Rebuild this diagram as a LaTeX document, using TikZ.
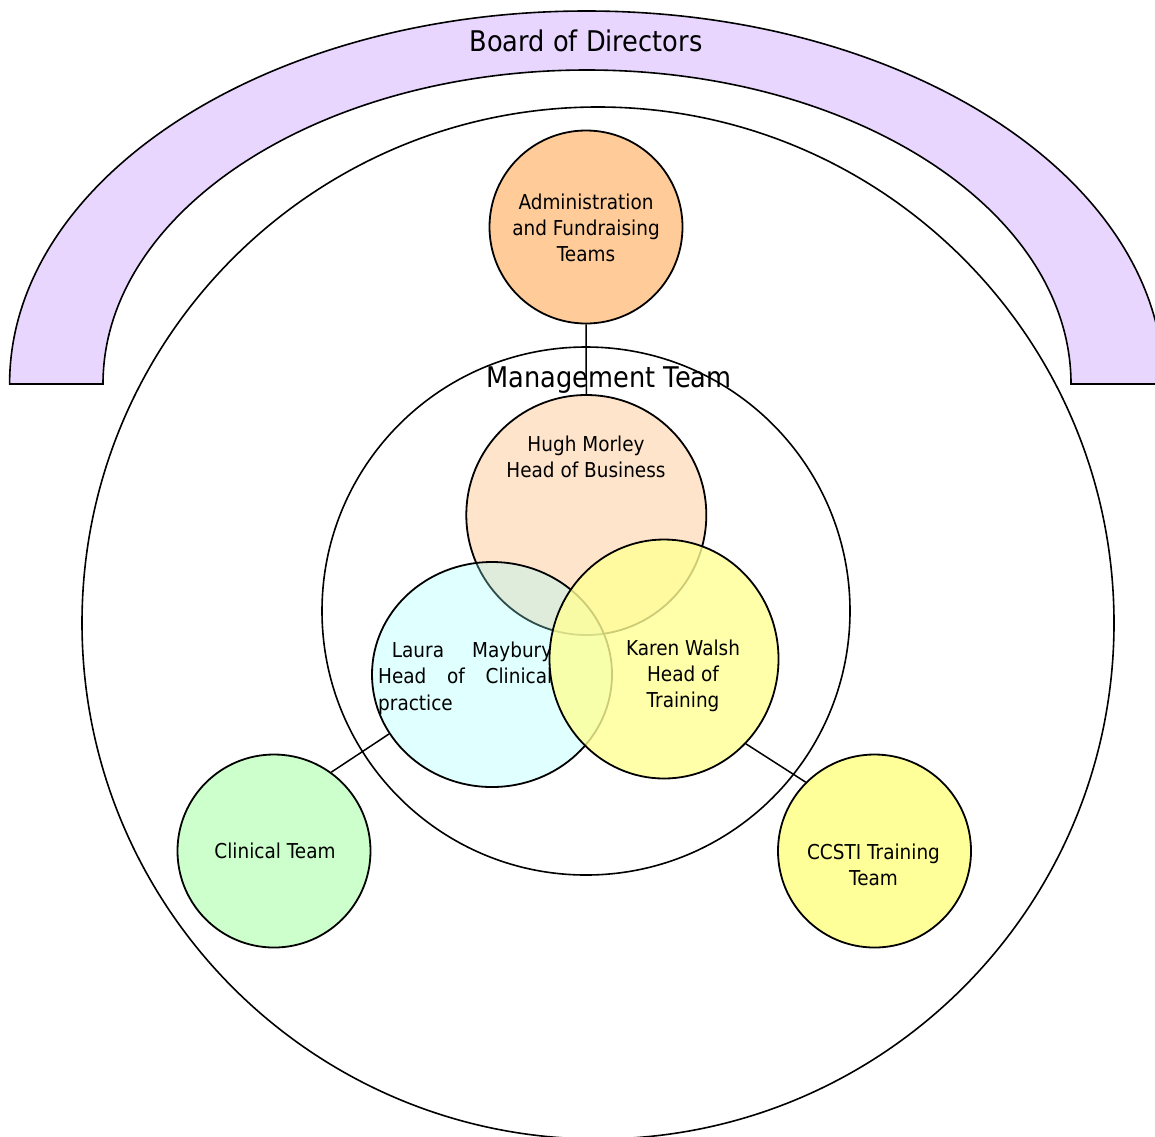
\documentclass[tikz,border=0pt]{standalone}
\usepackage{fontspec}
\setmainfont{DejaVu Sans}[FakeStretch=0.9]
\usetikzlibrary{shapes.geometric}
\definecolor{boardc}{RGB}{232,214,255}
\definecolor{adminc}{RGB}{255,204,153}
\definecolor{hughc}{RGB}{255,228,204}
\definecolor{laurac}{RGB}{152,255,255}
\definecolor{karenc}{RGB}{255,255,149}
\definecolor{clinc}{RGB}{204,255,204}
\definecolor{ccstic}{RGB}{255,255,153}
\begin{document}
\begin{tikzpicture}[x=1pt,y=-1pt,
  ring/.style={circle,draw=black,line width=1.6pt,inner sep=0pt},
  team/.style={circle,draw=black,line width=1.8pt,inner sep=0pt,minimum size=193pt},
  head/.style={draw=black,line width=1.8pt,inner sep=0pt},
  lbl/.style={inner sep=0pt,align=center,font=\fontsize{20.5}{26}\selectfont,anchor=base},
  bigl/.style={inner sep=0pt,font=\fontsize{28.5}{34}\selectfont,anchor=base},
  link/.style={draw=black,line width=1.5pt}]
\useasboundingbox (0,0) rectangle (1155,1136);
\clip (0,0) rectangle (1155,1136);
% Board of Directors band
\draw[fill=boardc,line width=1.6pt] (9.6,384)
  arc[start angle=180,end angle=360,x radius=577,y radius=373]
  -- (1071,384)
  arc[start angle=360,end angle=180,x radius=484,y radius=314] -- cycle;
\node[bigl] (boardtxt) at (586,51) {Board of Directors};
% rings
\node[ring,minimum size=1032pt] (outer) at (598,623) {};
\node[ring,minimum size=528pt] (mgmt) at (586,611) {};
% team circles
\node[team,fill=adminc] (admin) at (586,227) {};
\node[team,fill=clinc] (clin) at (274,851) {};
\node[team,fill=ccstic] (ccsti) at (874.5,851) {};
% heads
\node[head,circle,fill=hughc,minimum size=240pt] (hugh) at (586.3,515) {};
\draw[link] (admin.south) -- (hugh.north);
\node[lbl] (hughtxt) at (586,477) {Hugh Morley\\Head of Business};
\node[head,ellipse,fill=laurac,fill opacity=0.3,minimum width=240pt,minimum height=225pt] (laura) at (492,674.5) {};
\node[inner sep=0pt,align=left,font=\fontsize{20.5}{26.5}\selectfont,anchor=base west] (lauratxt) at (378,710)
  {\makebox[174pt][s]{\hspace*{13.7pt}Laura Maybury}\\\makebox[174pt][s]{Head of Clinical}\\practice};
\node[head,ellipse,fill=karenc,fill opacity=0.8,minimum width=229pt,minimum height=239pt] (karen) at (664,659) {};
\node[lbl] (karentxt) at (683,707) {Karen Walsh\\Head of\\Training};
\draw[link] (clin.54) -- (laura.210);
\draw[link] (ccsti.135) -- (karen.-46);
% labels
\node[bigl] (mgmttxt) at (609,387) {Management Team};
\node[lbl] (admintxt) at (586,261) {Administration\\and Fundraising\\Teams};
\node[lbl] (clintxt) at (275,858) {Clinical Team};
\node[lbl] (ccstitxt) at (873.5,885) {CCSTI Training\\Team};
\end{tikzpicture}
\end{document}
